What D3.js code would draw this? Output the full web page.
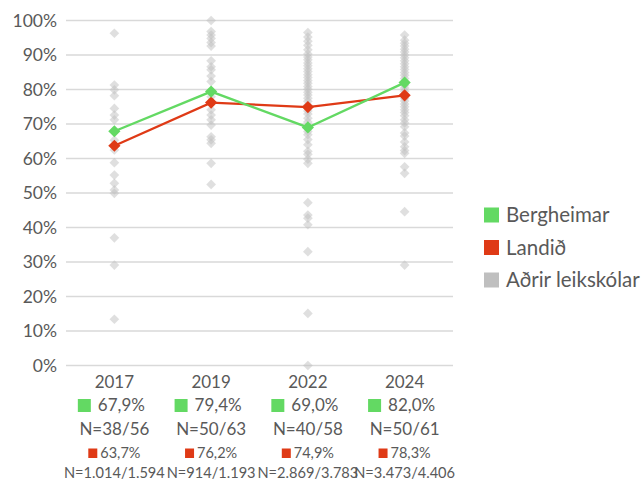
<!DOCTYPE html>
<html>
<head>
<meta charset="utf-8">
<script src="https://cdn.jsdelivr.net/npm/d3@7"></script>
<style>
  html, body { margin: 0; padding: 0; background: #fff; }
  svg { display: block; }
  text { font-family: Lato, "Open Sans", sans-serif; fill: #595959; }
</style>
</head>
<body>
<svg id="chart" width="641" height="482"></svg>
<script>
// Survey years
const years = ["2017", "2019", "2022", "2024"];

// Bergheimar share (%) and respondents
const bergheimar = [67.9, 79.4, 69.0, 82.0];
const bergheimarN = ["38/56", "50/63", "40/58", "50/61"];

// National share (%) and respondents
const landid = [63.7, 76.2, 74.9, 78.3];
const landidN = ["1.014/1.594", "914/1.193", "2.869/3.783", "3.473/4.406"];

// Other preschools, one value per school (%)
const others2017 = [96.3, 81.3, 79.9, 78.2, 74.5, 72.6, 71.2, 68.0, 65.3, 62.5, 58.8, 55.2, 52.8, 50.9, 49.9, 37.0, 29.1, 13.4];
const others2019 = [100, 96.8, 95.8, 94.8, 93.6, 92.6, 88.3, 86.6, 85.7, 83.9, 82.3, 77.9, 74.1, 72.6, 71.2, 69.7, 66.3, 65.4, 64.4, 58.6, 52.5];
const others2022 = [96.5, 95.2, 94.0, 92.8, 91.5, 90.3, 89.4, 88.6, 87.7, 86.9, 86.0, 85.2, 84.3, 83.5, 82.6, 81.8, 80.9, 80.1, 79.2, 78.4, 77.5, 76.6, 75.5, 73.8, 72.9, 71.7, 70.6, 67.8, 66.9, 65.5, 64.0, 62.1, 61.2, 59.8, 58.6, 47.2, 43.6, 42.7, 40.8, 33.0, 15.1, 0.0];
const others2024 = [95.8, 94.3, 93.4, 92.6, 91.7, 90.9, 90.0, 89.2, 88.3, 87.5, 86.6, 85.8, 84.9, 84.1, 83.2, 81.2, 80.4, 79.5, 77.5, 76.7, 75.8, 75.0, 74.1, 73.3, 72.4, 71.2, 70.3, 69.2, 67.4, 66.5, 64.8, 63.4, 62.3, 61.5, 57.6, 55.7, 44.6, 29.1];
const others = [others2017, others2019, others2022, others2024];

// Y-axis ticks
const yTicks = [0, 10, 20, 30, 40, 50, 60, 70, 80, 90, 100];

const legendLabels = ["Bergheimar", "Landið", "Aðrir leikskólar"];
const colors = { berg: "#63d963", land: "#df3a16", other: "#bfbfbf" };

const loc = d3.formatLocale({ decimal: ",", thousands: ".", grouping: [3], currency: ["", ""] });
const fmtPct = v => loc.format(".1f")(v) + "%";

const svg = d3.select("#chart");

const x = d3.scaleBand().domain(years).range([66, 453]);
const y = d3.scaleLinear().domain([0, 100]).range([365.5, 20.5]);
const cx = d => x(d) + x.bandwidth() / 2;

// Gridlines
svg.append("g").selectAll("line").data(yTicks).join("line")
  .attr("x1", 66).attr("x2", 453)
  .attr("y1", d => y(d)).attr("y2", d => y(d))
  .attr("stroke", "#d9d9d9").attr("stroke-width", 1.3);

// Y-axis labels
svg.append("g").selectAll("text").data(yTicks).join("text")
  .attr("x", 57).attr("y", d => y(d))
  .attr("dy", "0.36em")
  .attr("text-anchor", "end")
  .attr("font-size", 17.5)
  .text(d => d + "%");

const diamond = d3.symbol().type(d3.symbolDiamond2);

// Other preschools as translucent diamonds
const pts = [];
others.forEach((arr, i) => arr.forEach(v => pts.push({ year: years[i], v })));
svg.append("g").selectAll("path").data(pts).join("path")
  .attr("d", diamond.size(60)())
  .attr("transform", d => `translate(${cx(d.year)},${y(d.v)})`)
  .attr("fill", colors.other)
  .attr("fill-opacity", 0.5);

// Series lines with diamond markers
function series(values, color) {
  const data = values.map((v, i) => ({ year: years[i], v }));
  svg.append("path")
    .datum(data)
    .attr("fill", "none")
    .attr("stroke", color)
    .attr("stroke-width", 2.3)
    .attr("d", d3.line().x(d => cx(d.year)).y(d => y(d.v)));
  svg.append("g").selectAll("path").data(data).join("path")
    .attr("d", diamond.size(95)())
    .attr("transform", d => `translate(${cx(d.year)},${y(d.v)})`)
    .attr("fill", color);
}
series(landid, colors.land);
series(bergheimar, colors.berg);

// Data table under the axis
const table = svg.append("g");
years.forEach((yr, i) => {
  const c = cx(yr);
  table.append("text").attr("x", c).attr("y", 382).attr("dy", "0.36em")
    .attr("text-anchor", "middle").attr("font-size", 17).text(yr);

  const g1 = table.append("text").attr("x", c + 7).attr("y", 405).attr("dy", "0.36em")
    .attr("text-anchor", "middle").attr("font-size", 17).text(fmtPct(bergheimar[i]));
  const w1 = g1.node().getComputedTextLength();
  table.append("rect").attr("x", c + 7 - w1 / 2 - 20).attr("y", 399).attr("width", 13).attr("height", 13)
    .attr("fill", colors.berg);

  table.append("text").attr("x", c).attr("y", 429).attr("dy", "0.36em")
    .attr("text-anchor", "middle").attr("font-size", 17).text("N=" + bergheimarN[i]);

  const g2 = table.append("text").attr("x", c + 6).attr("y", 453).attr("dy", "0.36em")
    .attr("text-anchor", "middle").attr("font-size", 14.5).text(fmtPct(landid[i]));
  const w2 = g2.node().getComputedTextLength();
  table.append("rect").attr("x", c + 6 - w2 / 2 - 12).attr("y", 448.5).attr("width", 9).attr("height", 9.5)
    .attr("fill", colors.land);

  table.append("text").attr("x", c).attr("y", 472.5).attr("dy", "0.36em")
    .attr("text-anchor", "middle").attr("font-size", 14.6).text("N=" + landidN[i]);
});

// Legend
const legendColors = [colors.berg, colors.land, colors.other];
const leg = svg.append("g").selectAll("g").data(legendLabels).join("g")
  .attr("transform", (d, i) => `translate(484,${215 + i * 32.5})`);
leg.append("rect").attr("x", 0).attr("y", -7.5).attr("width", 15).attr("height", 15)
  .attr("fill", (d, i) => legendColors[i]);
leg.append("text").attr("x", 22).attr("y", 0).attr("dy", "0.36em")
  .attr("font-size", 20.5).text(d => d);
</script>
</body>
</html>
